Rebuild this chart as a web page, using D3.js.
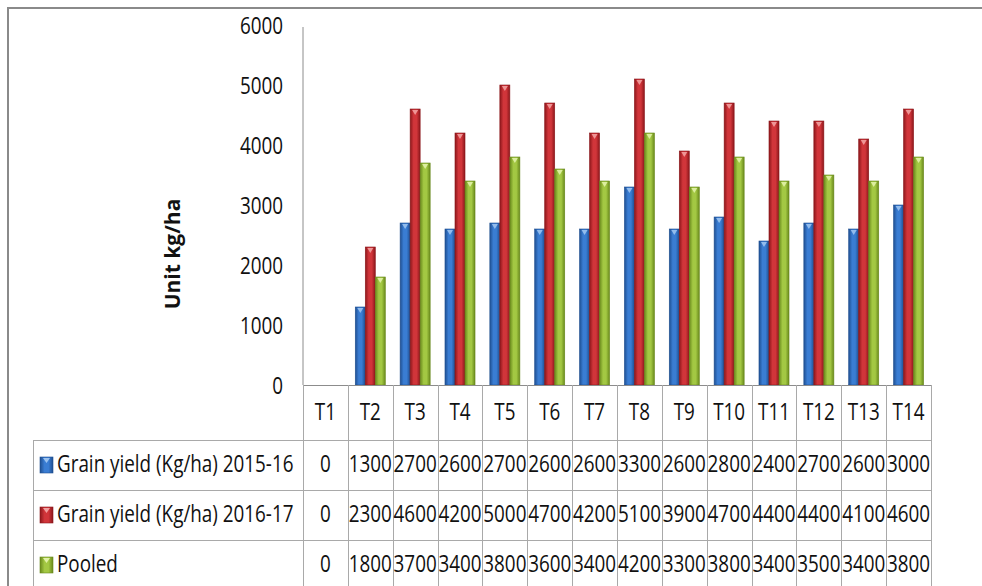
<!DOCTYPE html>
<html>
<head>
<meta charset="utf-8">
<script src="https://cdn.jsdelivr.net/npm/d3@7"></script>
<style>
  html, body { margin: 0; padding: 0; background: #fff; }
  svg { display: block; }
  text { font-family: "Open Sans", "Noto Sans", sans-serif; fill: #111; }
</style>
</head>
<body>
<svg id="chart" width="982" height="586"></svg>
<script>
// Treatments and grain yield per season (kg/ha)
const categories = ["T1","T2","T3","T4","T5","T6","T7","T8","T9","T10","T11","T12","T13","T14"];
const yield201516 = [0,1300,2700,2600,2700,2600,2600,3300,2600,2800,2400,2700,2600,3000];
const yield201617 = [0,2300,4600,4200,5000,4700,4200,5100,3900,4700,4400,4400,4100,4600];
const pooledYield = [0,1800,3700,3400,3800,3600,3400,4200,3300,3800,3400,3500,3400,3800];
const seriesNames = ["Grain yield (Kg/ha) 2015-16", "Grain yield (Kg/ha) 2016-17", "Pooled"];
const yTicks = [0,1000,2000,3000,4000,5000,6000];
const yTitle = "Unit kg/ha";

const seriesValues = [yield201516, yield201617, pooledYield];
const palette = [
  { dark: "#1f4f91", mid: "#3a7dd3", light: "#9cc3f0" },
  { dark: "#8c171b", mid: "#d1353a", light: "#f2a0a0" },
  { dark: "#69891c", mid: "#a3c843", light: "#e2f2a8" }
];

const SX = 0.82;           // horizontal squeeze of text glyphs
const FS = 23;             // font size
const FW = 500;            // font weight
const plot = { left: 303, right: 931, top: 25, bottom: 385 };
const table = { left: 33, rowTop: 440, rowH: 50, bottom: 586 };
const gridColor = "#a9a9a9";

const svg = d3.select("#chart");
const defs = svg.append("defs");

palette.forEach((c, i) => {
  const g = defs.append("linearGradient").attr("id", "grad" + i)
    .attr("x1", "0%").attr("x2", "100%").attr("y1", "0%").attr("y2", "0%");
  g.append("stop").attr("offset", "0%").attr("stop-color", c.dark);
  g.append("stop").attr("offset", "35%").attr("stop-color", c.mid);
  g.append("stop").attr("offset", "65%").attr("stop-color", c.mid);
  g.append("stop").attr("offset", "100%").attr("stop-color", c.dark);
});

// Outer frame
svg.append("path")
  .attr("d", `M8,${table.bottom + 5} L8,8 L990,8`)
  .attr("fill", "none").attr("stroke", "#8a8a8a").attr("stroke-width", 2);

const x = d3.scaleBand().domain(categories).range([plot.left, plot.right]).padding(0);
const xSub = d3.scaleBand().domain(d3.range(seriesNames.length))
  .range([0, x.bandwidth()]).paddingInner(0).paddingOuter(0.74);
const y = d3.scaleLinear().domain([0, 6000]).range([plot.bottom, plot.top]);

function squeezedText(parent, px, py, str, anchor, opts = {}) {
  return parent.append("text")
    .attr("transform", `translate(${px},${py}) scale(${SX},1)`)
    .attr("text-anchor", anchor)
    .attr("dy", "0.36em")
    .attr("font-size", opts.size || FS)
    .attr("font-weight", opts.weight || FW)
    .text(str);
}

// Y axis
const yAxis = svg.append("g")
  .attr("transform", `translate(${plot.left},0)`)
  .call(d3.axisLeft(y).tickValues(yTicks).tickSize(0).tickPadding(0).tickFormat(d3.format("d")));
yAxis.select(".domain").attr("stroke", "#8c8c8c").attr("d", `M0,${y(6000) + 2}V${plot.bottom}`);
yAxis.selectAll(".tick text")
  .attr("x", null).attr("dy", "0.36em")
  .attr("transform", `translate(-20,0) scale(${SX},1)`)
  .attr("font-size", FS).attr("font-weight", FW).attr("font-family", null).attr("fill", "#111");

// Y axis title
svg.append("text")
  .attr("transform", "translate(172,254) rotate(-90)")
  .attr("text-anchor", "middle").attr("dy", "0.36em")
  .attr("font-size", 21).attr("font-weight", 700)
  .text(yTitle);

// Bars
const barData = [];
categories.forEach((cat, ci) => {
  seriesValues.forEach((vals, si) => barData.push({ cat, si, v: vals[ci] }));
});
const bars = svg.append("g").selectAll("g.bar").data(barData.filter(d => d.v > 0)).join("g").attr("class", "bar");
bars.append("rect")
  .attr("x", d => x(d.cat) + xSub(d.si))
  .attr("y", d => y(d.v))
  .attr("width", xSub.bandwidth())
  .attr("height", d => y(0) - y(d.v))
  .attr("fill", d => `url(#grad${d.si})`)
  .attr("stroke", d => palette[d.si].dark).attr("stroke-width", 0.6);
bars.append("path")
  .attr("d", d => {
    const cx = x(d.cat) + xSub(d.si) + xSub.bandwidth() / 2;
    const top = y(d.v) + 1;
    return `M${cx - 3},${top} L${cx + 3},${top} L${cx},${top + 5} Z`;
  })
  .attr("fill", d => palette[d.si].light).attr("opacity", 0.9);

// Data table grid
const grid = svg.append("g").attr("stroke", gridColor).attr("stroke-width", 1).attr("fill", "none");
grid.append("line").attr("x1", plot.left).attr("x2", plot.right).attr("y1", plot.bottom + 0.5).attr("y2", plot.bottom + 0.5).attr("stroke", "#8c8c8c");
seriesNames.forEach((s, i) => {
  const yy = table.rowTop + i * table.rowH + 0.5;
  grid.append("line").attr("x1", table.left).attr("x2", plot.right).attr("y1", yy).attr("y2", yy);
});
categories.forEach(c => {
  const xx = Math.round(x(c)) + 0.5;
  grid.append("line").attr("x1", xx).attr("x2", xx).attr("y1", plot.bottom).attr("y2", table.bottom);
});
grid.append("line").attr("x1", plot.right + 0.5).attr("x2", plot.right + 0.5).attr("y1", plot.bottom).attr("y2", table.bottom);
grid.append("line").attr("x1", table.left + 0.5).attr("x2", table.left + 0.5).attr("y1", table.rowTop).attr("y2", table.bottom);

// Category header
const labels = svg.append("g");
categories.forEach(c => {
  squeezedText(labels, x(c) + x.bandwidth() / 2, 412, c, "middle");
});

// Series rows: legend key, name and values
seriesNames.forEach((name, si) => {
  const cy = table.rowTop + si * table.rowH + table.rowH / 2;
  const key = svg.append("g");
  key.append("rect").attr("x", 40).attr("y", cy - 8).attr("width", 13).attr("height", 16)
    .attr("fill", `url(#grad${si})`).attr("stroke", palette[si].dark).attr("stroke-width", 0.6);
  key.append("path").attr("d", `M${43},${cy - 7} L${50},${cy - 7} L${46.5},${cy - 2} Z`)
    .attr("fill", palette[si].light);
  squeezedText(labels, 57, cy - 1, name, "start");
  categories.forEach((c, ci) => {
    squeezedText(labels, x(c) + x.bandwidth() / 2, cy - 1, String(seriesValues[si][ci]), "middle");
  });
});
</script>
</body>
</html>
